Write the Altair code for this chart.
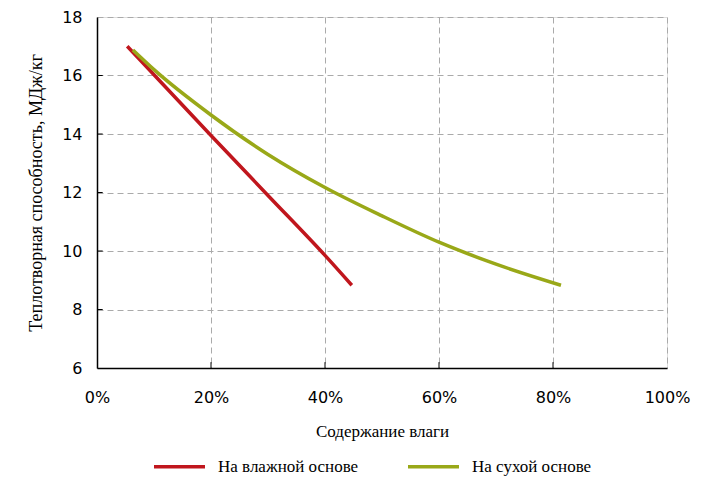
import altair as alt
import pandas as pd

wet_x = [5.3, 20, 30, 40, 44.7]
wet_y = [17.0, 13.95, 11.9, 9.85, 8.83]
dry_x = [6.3, 10, 20, 30, 40, 50, 60, 70, 81.4]
dry_y = [16.87, 16.2, 14.65, 13.3, 12.17, 11.2, 10.3, 9.55, 8.83]
series_names = ["На влажной основе", "На сухой основе"]
colors = ["#C0161D", "#99A818"]
x_ticks = [0, 20, 40, 60, 80, 100]
y_ticks = [6, 8, 10, 12, 14, 16, 18]

df = pd.DataFrame(
    [{"x": a, "y": b, "s": series_names[0]} for a, b in zip(wet_x, wet_y)]
    + [{"x": a, "y": b, "s": series_names[1]} for a, b in zip(dry_x, dry_y)]
)

serif = "Liberation Serif"
sans = "DejaVu Sans"

xscale = alt.Scale(domain=[0, 100], nice=False)
yscale = alt.Scale(domain=[6, 18], nice=False)

lines = alt.Chart(df).mark_line(strokeWidth=3.5, interpolate="monotone", strokeCap="butt").encode(
    x=alt.X("x:Q", scale=xscale,
            axis=alt.Axis(values=x_ticks, title="Содержание влаги",
                          labelExpr="datum.value + '%'", ticks=False,
                          labelPadding=21, titlePadding=18, labelFlush=False,
                          labelFont=sans, labelFontSize=16, labelColor="#000",
                          titleFont=serif, titleFontSize=17, titleFontWeight="normal",
                          titleColor="#000", domainColor="#000", domainWidth=1.5,
                          gridColor="#aaaaaa", gridDash=[6, 4], gridWidth=1)),
    y=alt.Y("y:Q", scale=yscale,
            axis=alt.Axis(values=y_ticks, title="Теплотворная способность, МДж/кг",
                          ticks=False, labelPadding=15, titlePadding=16, labelFlush=False,
                          labelFont=sans, labelFontSize=16, labelColor="#000",
                          titleFont=serif, titleFontSize=18, titleFontWeight="normal",
                          titleColor="#000", domainColor="#000", domainWidth=1.5,
                          gridColor="#aaaaaa", gridDash=[6, 4], gridWidth=1)),
    color=alt.Color("s:N", scale=alt.Scale(domain=series_names, range=colors),
                    legend=alt.Legend(title=None, orient="none", direction="horizontal",
                                      legendX=55, legendY=422,
                                      symbolType="stroke", symbolSize=2600,
                                      symbolStrokeWidth=3.5, labelOffset=11,
                                      columnPadding=42,
                                      labelFont=serif, labelFontSize=17,
                                      labelColor="#000", labelLimit=300)),
)

xt = pd.DataFrame({"x": x_ticks[1:-1], "y0": [6] * 4, "y1": [6.2] * 4})
yt = pd.DataFrame({"y": y_ticks[1:-1], "x0": [0] * 5, "x1": [1.0] * 5})

xtick_rules = alt.Chart(xt).mark_rule(color="#000", strokeWidth=1).encode(
    x=alt.X("x:Q", scale=xscale), y=alt.Y("y0:Q", scale=yscale), y2="y1:Q")
ytick_rules = alt.Chart(yt).mark_rule(color="#000", strokeWidth=1).encode(
    y=alt.Y("y:Q", scale=yscale), x=alt.X("x0:Q", scale=xscale), x2="x1:Q")

chart = alt.layer(xtick_rules, ytick_rules, lines).properties(
    width=570, height=351,
    autosize=alt.AutoSizeParams(type="none"),
    padding={"left": 89, "top": 9, "right": 30, "bottom": 114},
).configure_view(stroke="#000", strokeWidth=1.5).configure(background="white")

chart.save("out.html", embed_options={"renderer": "svg", "actions": False})
